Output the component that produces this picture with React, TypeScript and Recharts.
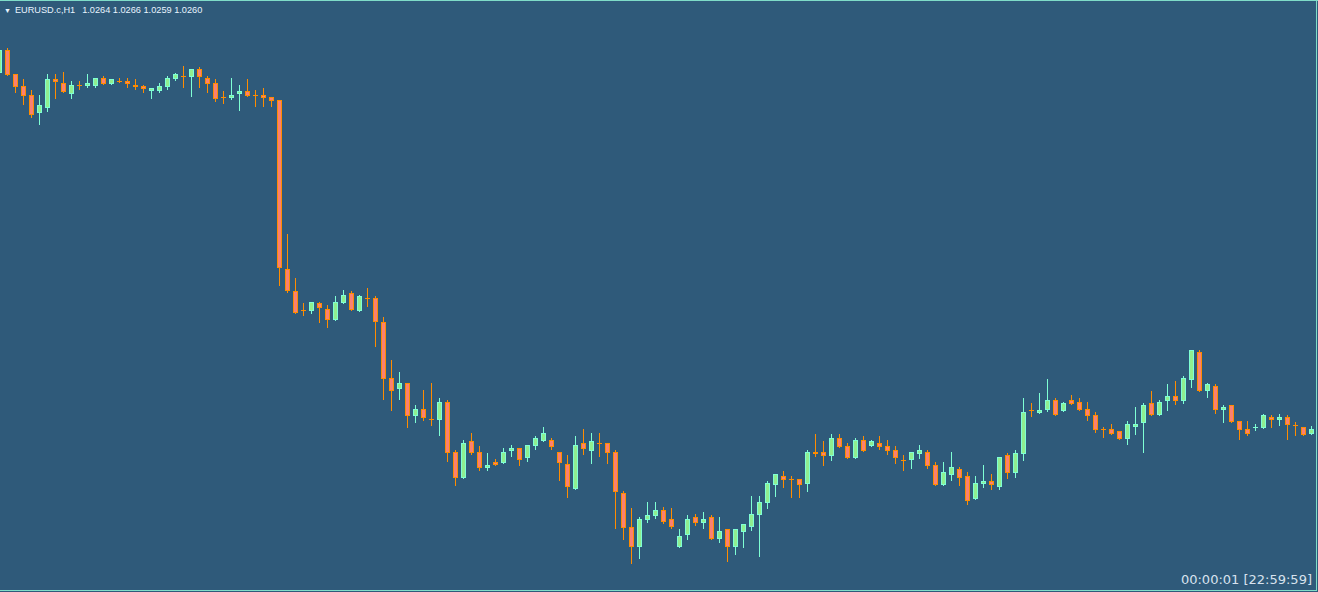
import React from 'react';
import { ComposedChart, Bar, XAxis, YAxis } from 'recharts';

// EURUSD H1 candles (first one is partially cut off at the left edge)
const opens = [
  1.04385,
  1.04500, 1.04380, 1.04320, 1.04275, 1.04185, 1.04210, 1.04355, 1.04335, 1.04280, 1.04325,
  1.04320, 1.04320, 1.04360, 1.04330, 1.04345, 1.04345, 1.04325, 1.04320, 1.04295, 1.04295,
  1.04315, 1.04355, 1.04370, 1.04365, 1.04405, 1.04360, 1.04335, 1.04265, 1.04260, 1.04280,
  1.04295, 1.04275, 1.04275, 1.04265, 1.04250, 1.03405, 1.03295, 1.03200, 1.03195, 1.03235,
  1.03205, 1.03150, 1.03235, 1.03285, 1.03195, 1.03260, 1.03260, 1.03140, 1.02860, 1.02805,
  1.02835, 1.02670, 1.02705, 1.02655, 1.02650, 1.02740, 1.02490, 1.02360, 1.02545, 1.02490,
  1.02410, 1.02440, 1.02435, 1.02495, 1.02510, 1.02460, 1.02520, 1.02545, 1.02550, 1.02490,
  1.02430, 1.02305, 1.02535, 1.02495, 1.02535, 1.02535, 1.02490, 1.02285, 1.02115, 1.02015,
  1.02150, 1.02170, 1.02200, 1.02155, 1.02015, 1.02075, 1.02165, 1.02135, 1.02165, 1.02055,
  1.02105, 1.02015, 1.02090, 1.02115, 1.02175, 1.02235, 1.02325, 1.02370, 1.02355, 1.02355,
  1.02330, 1.02490, 1.02490, 1.02470, 1.02560, 1.02520, 1.02460, 1.02550, 1.02520, 1.02535,
  1.02520, 1.02500, 1.02450, 1.02450, 1.02480, 1.02490, 1.02425, 1.02325, 1.02375, 1.02405,
  1.02370, 1.02255, 1.02330, 1.02345, 1.02315, 1.02475, 1.02385, 1.02480, 1.02700, 1.02685,
  1.02700, 1.02750, 1.02695, 1.02750, 1.02740, 1.02705, 1.02675, 1.02605, 1.02605, 1.02595,
  1.02555, 1.02615, 1.02635, 1.02735, 1.02675, 1.02745, 1.02770, 1.02745, 1.02850, 1.02990,
  1.02795, 1.02820, 1.02700, 1.02725, 1.02645, 1.02605, 1.02610, 1.02610, 1.02665, 1.02650,
  1.02665, 1.02625, 1.02615, 1.02580,
];

const highs = [
  1.04510,
  1.04510, 1.04380, 1.04355, 1.04300, 1.04275, 1.04380, 1.04380, 1.04390, 1.04345, 1.04345,
  1.04380, 1.04360, 1.04370, 1.04355, 1.04360, 1.04360, 1.04355, 1.04325, 1.04310, 1.04335,
  1.04370, 1.04385, 1.04420, 1.04405, 1.04415, 1.04370, 1.04355, 1.04295, 1.04360, 1.04325,
  1.04355, 1.04300, 1.04310, 1.04265, 1.04250, 1.03580, 1.03360, 1.03235, 1.03240, 1.03240,
  1.03225, 1.03270, 1.03300, 1.03295, 1.03275, 1.03310, 1.03270, 1.03165, 1.02950, 1.02890,
  1.02835, 1.02725, 1.02800, 1.02835, 1.02760, 1.02750, 1.02500, 1.02550, 1.02585, 1.02520,
  1.02485, 1.02455, 1.02510, 1.02525, 1.02510, 1.02525, 1.02570, 1.02615, 1.02560, 1.02490,
  1.02475, 1.02570, 1.02605, 1.02585, 1.02585, 1.02535, 1.02500, 1.02295, 1.02210, 1.02165,
  1.02240, 1.02240, 1.02215, 1.02210, 1.02105, 1.02175, 1.02180, 1.02190, 1.02175, 1.02165,
  1.02105, 1.02105, 1.02130, 1.02270, 1.02270, 1.02345, 1.02380, 1.02395, 1.02370, 1.02355,
  1.02500, 1.02580, 1.02545, 1.02580, 1.02580, 1.02535, 1.02560, 1.02570, 1.02550, 1.02570,
  1.02550, 1.02520, 1.02475, 1.02490, 1.02525, 1.02500, 1.02440, 1.02440, 1.02490, 1.02415,
  1.02390, 1.02370, 1.02425, 1.02380, 1.02465, 1.02485, 1.02500, 1.02760, 1.02735, 1.02785,
  1.02855, 1.02760, 1.02740, 1.02775, 1.02760, 1.02740, 1.02690, 1.02615, 1.02630, 1.02595,
  1.02645, 1.02715, 1.02735, 1.02795, 1.02750, 1.02830, 1.02845, 1.02870, 1.03000, 1.03000,
  1.02835, 1.02830, 1.02725, 1.02725, 1.02645, 1.02645, 1.02630, 1.02680, 1.02675, 1.02680,
  1.02675, 1.02640, 1.02615, 1.02620,
];

const lows = [
  1.04375,
  1.04375, 1.04290, 1.04230, 1.04165, 1.04130, 1.04195, 1.04260, 1.04290, 1.04260, 1.04305,
  1.04315, 1.04315, 1.04330, 1.04330, 1.04340, 1.04315, 1.04305, 1.04290, 1.04260, 1.04290,
  1.04305, 1.04350, 1.04315, 1.04270, 1.04315, 1.04290, 1.04245, 1.04235, 1.04255, 1.04200,
  1.04270, 1.04220, 1.04220, 1.04220, 1.03325, 1.03290, 1.03185, 1.03175, 1.03185, 1.03140,
  1.03115, 1.03150, 1.03235, 1.03200, 1.03195, 1.03220, 1.03020, 1.02755, 1.02700, 1.02755,
  1.02615, 1.02640, 1.02650, 1.02625, 1.02575, 1.02445, 1.02325, 1.02360, 1.02480, 1.02400,
  1.02400, 1.02425, 1.02435, 1.02470, 1.02425, 1.02445, 1.02505, 1.02545, 1.02505, 1.02350,
  1.02265, 1.02305, 1.02480, 1.02435, 1.02470, 1.02435, 1.02110, 1.02055, 1.01935, 1.01960,
  1.02140, 1.02160, 1.02135, 1.02110, 1.02015, 1.02055, 1.02125, 1.02110, 1.02055, 1.02040,
  1.01945, 1.01980, 1.02015, 1.02100, 1.01970, 1.02210, 1.02270, 1.02315, 1.02265, 1.02265,
  1.02295, 1.02470, 1.02425, 1.02450, 1.02515, 1.02460, 1.02460, 1.02495, 1.02520, 1.02505,
  1.02480, 1.02435, 1.02400, 1.02410, 1.02460, 1.02410, 1.02325, 1.02325, 1.02350, 1.02325,
  1.02230, 1.02255, 1.02315, 1.02305, 1.02305, 1.02360, 1.02365, 1.02450, 1.02670, 1.02685,
  1.02695, 1.02675, 1.02695, 1.02730, 1.02700, 1.02650, 1.02590, 1.02565, 1.02580, 1.02555,
  1.02530, 1.02580, 1.02490, 1.02675, 1.02675, 1.02700, 1.02730, 1.02735, 1.02815, 1.02795,
  1.02765, 1.02685, 1.02640, 1.02640, 1.02555, 1.02575, 1.02600, 1.02610, 1.02615, 1.02625,
  1.02555, 1.02575, 1.02575, 1.02580,
];

const closes = [
  1.04500,
  1.04375, 1.04315, 1.04270, 1.04175, 1.04225, 1.04355, 1.04340, 1.04290, 1.04325, 1.04325,
  1.04335, 1.04360, 1.04330, 1.04355, 1.04345, 1.04330, 1.04315, 1.04305, 1.04310, 1.04320,
  1.04360, 1.04380, 1.04370, 1.04405, 1.04365, 1.04330, 1.04255, 1.04265, 1.04275, 1.04295,
  1.04270, 1.04275, 1.04260, 1.04245, 1.03410, 1.03295, 1.03185, 1.03200, 1.03240, 1.03210,
  1.03150, 1.03240, 1.03275, 1.03200, 1.03270, 1.03260, 1.03140, 1.02855, 1.02795, 1.02835,
  1.02670, 1.02705, 1.02660, 1.02655, 1.02740, 1.02485, 1.02360, 1.02535, 1.02485, 1.02410,
  1.02425, 1.02425, 1.02490, 1.02510, 1.02450, 1.02525, 1.02560, 1.02585, 1.02515, 1.02435,
  1.02315, 1.02525, 1.02505, 1.02545, 1.02535, 1.02485, 1.02290, 1.02110, 1.02015, 1.02155,
  1.02175, 1.02200, 1.02140, 1.02115, 1.02070, 1.02155, 1.02135, 1.02155, 1.02055, 1.02095,
  1.02015, 1.02105, 1.02130, 1.02180, 1.02240, 1.02335, 1.02380, 1.02350, 1.02355, 1.02325,
  1.02490, 1.02480, 1.02470, 1.02560, 1.02515, 1.02460, 1.02550, 1.02495, 1.02545, 1.02515,
  1.02495, 1.02460, 1.02450, 1.02490, 1.02500, 1.02420, 1.02325, 1.02390, 1.02415, 1.02360,
  1.02245, 1.02335, 1.02345, 1.02325, 1.02465, 1.02385, 1.02485, 1.02690, 1.02700, 1.02700,
  1.02750, 1.02675, 1.02735, 1.02730, 1.02700, 1.02670, 1.02600, 1.02605, 1.02580, 1.02555,
  1.02630, 1.02630, 1.02725, 1.02675, 1.02740, 1.02770, 1.02745, 1.02860, 1.03000, 1.02795,
  1.02830, 1.02700, 1.02715, 1.02640, 1.02600, 1.02580, 1.02615, 1.02675, 1.02650, 1.02665,
  1.02625, 1.02625, 1.02575, 1.02605,
];

// bar positions (candle index) that carry a time-scale tick mark
const timeTicks = [8, 16, 24, 32, 40, 48, 56, 64, 72, 80, 88, 96, 104, 112, 120, 128, 136, 144, 152, 160];

const titleSymbol = 'EURUSD.c,H1';
const titleQuote = '1.0264 1.0266 1.0259 1.0260';
const timerText = '00:00:01 [22:59:59]';

const BG = '#2f5a7a';
const FRAME = '#7fdcc8';
const BULL_LINE = '#7fffd4';
const BULL_FILL = '#90ee90';
const BEAR_LINE = '#ff8c00';
const BEAR_FILL = '#fa8072';

const data = opens.map((o, i) => ({
  idx: i,
  o,
  h: highs[i],
  l: lows[i],
  c: closes[i],
  range: [lows[i], highs[i]],
}));

const Candle = (props: any) => {
  const { x, y, width, height } = props;
  const p = props.payload || props;
  if (x == null || y == null || p == null) return null;
  const { o, h, l, c } = p;
  const cx = Math.floor(x + width / 2) + 0.5;
  const span = h - l;
  const toY = (v: number) => (span > 0 ? y + ((h - v) / span) * height : y);
  const bull = c > o;
  const doji = c === o;
  const line = bull ? BULL_LINE : BEAR_LINE;
  const fill = bull ? BULL_FILL : BEAR_FILL;
  const yH = Math.round(toY(h));
  const yL = Math.round(toY(l));
  const yO = Math.round(toY(o));
  const yC = Math.round(toY(c));
  const top = Math.min(yO, yC);
  const bot = Math.max(yO, yC);
  return (
    <g>
      <line x1={cx} x2={cx} y1={yH} y2={yL + 1} stroke={line} strokeWidth={1} />
      {doji || bot - top <= 1 ? (
        <line x1={cx - 2.5} x2={cx + 2.5} y1={top + 0.5} y2={top + 0.5} stroke={line} strokeWidth={1} />
      ) : (
        <rect x={cx - 2} y={top + 0.5} width={4} height={Math.max(bot - top - 1, 1)} fill={fill} stroke={line} strokeWidth={1} />
      )}
    </g>
  );
};

export default function App() {
  return (
    <div style={{ position: 'absolute', left: 0, top: 0, width: 1318, height: 592, background: BG, overflow: 'hidden' }}>
      <ComposedChart width={1318} height={592} data={data} margin={{ top: 0, right: 2, bottom: 0, left: 0 }}>
        <XAxis
          dataKey="idx"
          type="number"
          domain={[0.0625, 164.5625]}
          allowDataOverflow
          ticks={timeTicks}
          tick={false}
          tickSize={2}
          height={2}
          axisLine={false}
          tickLine={{ stroke: FRAME }}
        />
        <YAxis hide domain={[1.018, 1.0475]} allowDataOverflow />
        <Bar dataKey="range" barSize={5} isAnimationActive={false} shape={(p: any) => <Candle {...p} />} />
      </ComposedChart>
      <div style={{ position: 'absolute', left: 0, top: 0, width: 1318, height: 1, background: FRAME }} />
      <div style={{ position: 'absolute', left: 0, top: 590, width: 1317, height: 1, background: FRAME }} />
      <div style={{ position: 'absolute', left: 1316, top: 0, width: 1, height: 591, background: FRAME }} />
      <div
        style={{
          position: 'absolute',
          left: 4,
          top: 5,
          fontFamily: '"Liberation Sans", Arial, sans-serif',
          fontSize: 9.2,
          lineHeight: '11px',
          color: '#e8f4ff',
          whiteSpace: 'pre',
        }}
      >
        <span style={{ fontSize: 7, marginRight: 4 }}>▼</span>
        {titleSymbol}
        <span style={{ marginLeft: 7 }}>{titleQuote}</span>
      </div>
      <div
        style={{
          position: 'absolute',
          right: 6,
          top: 571,
          fontFamily: '"DejaVu Sans", Verdana, sans-serif',
          fontSize: 13,
          lineHeight: '17px',
          color: '#d8e2ee',
          whiteSpace: 'pre',
        }}
      >
        {timerText}
      </div>
    </div>
  );
}
